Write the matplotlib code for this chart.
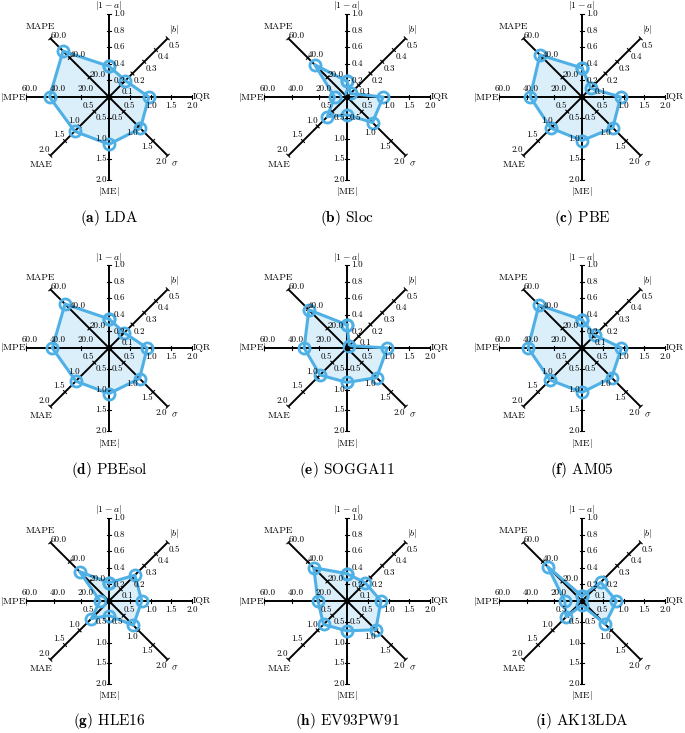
## Radar charts of error metrics for nine functionals

import matplotlib.pyplot as plt
import numpy as np

plt.rcParams['font.family'] = 'serif'
plt.rcParams['font.serif'] = ['cmr10', 'DejaVu Serif']
plt.rcParams['mathtext.fontset'] = 'cm'
plt.rcParams['axes.unicode_minus'] = False

# axes of the radar, clockwise from the top
axis_names = [r'$|1-a|$', r'$|b|$', 'IQR', r'$\sigma$', r'$|\mathrm{ME}|$', 'MAE', r'$|\mathrm{MPE}|$', 'MAPE']
axis_max = [1.0, 0.5, 2.0, 2.0, 2.0, 2.0, 60.0, 60.0]
axis_ticks = [
    [0.2, 0.4, 0.6, 0.8, 1.0],
    [0.1, 0.2, 0.3, 0.4, 0.5],
    [0.5, 1.0, 1.5, 2.0],
    [0.5, 1.0, 1.5, 2.0],
    [0.5, 1.0, 1.5, 2.0],
    [0.5, 1.0, 1.5, 2.0],
    [20.0, 40.0, 60.0],
    [20.0, 40.0, 60.0],
]

letters = ['a', 'b', 'c', 'd', 'e', 'f', 'g', 'h', 'i']
functionals = ['LDA', 'Sloc', 'PBE', 'PBEsol', 'SOGGA11', 'AM05', 'HLE16', 'EV93PW91', 'AK13LDA']

# values: |1-a|, |b|, IQR, sigma, |ME|, MAE, |MPE|, MAPE
lda = [0.37, 0.14, 0.96, 1.07, 1.14, 1.17, 43.0, 47.0]
sloc = [0.19, 0.03, 0.87, 0.87, 0.43, 0.67, 9.0, 33.0]
pbe = [0.35, 0.075, 0.93, 1.05, 1.05, 1.06, 37.5, 43.0]
pbesol = [0.35, 0.13, 0.92, 1.04, 1.10, 1.13, 41.0, 45.0]
sogga11 = [0.28, 0.02, 0.97, 1.01, 0.83, 0.92, 31.0, 39.0]
am05 = [0.34, 0.11, 0.95, 1.01, 1.07, 1.09, 39.0, 44.0]
hle16 = [0.22, 0.22, 0.79, 0.83, 0.35, 0.60, 6.5, 30.0]
ev93pw91 = [0.33, 0.155, 0.82, 0.98, 0.72, 0.80, 21.0, 34.0]
ak13lda = [0.06, 0.16, 0.83, 0.79, 0.10, 0.54, 12.5, 35.0]
all_values = [lda, sloc, pbe, pbesol, sogga11, am05, hle16, ev93pw91, ak13lda]

angles = np.deg2rad([90, 45, 0, -45, -90, -135, 180, 135])
# tick label offsets (pixels) and axis name offsets (pixels)
tick_off = [(10, 0), (7, -7), (0, -9), (-6, -6), (-8, 0), (-6, 6), (4, 8), (8, 3)]
name_off = [(0, 8), (6, 9), (10, 0), (7, -8), (0, -12), (-9, -9), (-12, 0), (-10, 12)]

blue = '#4FB0E6'

W, H = 685, 733
R = 83.0  # axis length in pixels
centers_x = [109, 347, 582]
centers_y = [97, 348, 601]
caption_y = [218, 470, 721]
box = 230

fig = plt.figure(figsize=(W / 100, H / 100), dpi=100)

for p in range(9):
    row, col = divmod(p, 3)
    cx, cy = centers_x[col], centers_y[row]
    ax = fig.add_axes([(cx - box / 2) / W, 1 - (cy + box / 2) / H, box / W, box / H])
    lim = box / 2 / R
    ax.set_xlim(-lim, lim)
    ax.set_ylim(-lim, lim)
    ax.axis('off')

    for k in range(8):
        c, s = np.cos(angles[k]), np.sin(angles[k])
        ax.plot([0, c], [0, s], color='black', lw=1.4, zorder=2, solid_capstyle='butt')
        for t in axis_ticks[k]:
            r = t / axis_max[k]
            ax.plot([r * c - 0.025 * s, r * c + 0.025 * s], [r * s + 0.025 * c, r * s - 0.025 * c],
                    color='black', lw=0.8, zorder=2)
            ax.annotate('%.1f' % t, (r * c, r * s), xytext=tick_off[k], textcoords='offset pixels',
                        ha='center', va='center', fontsize=6.5, zorder=4, annotation_clip=False)
        ax.annotate(axis_names[k], (c, s), xytext=name_off[k], textcoords='offset pixels',
                    ha='center', va='center', fontsize=7, zorder=4, annotation_clip=False)

    vals = np.array(all_values[p]) / np.array(axis_max)
    xs = np.append(vals * np.cos(angles), vals[0] * np.cos(angles[0]))
    ys = np.append(vals * np.sin(angles), vals[0] * np.sin(angles[0]))
    ax.fill(xs, ys, color=blue, alpha=0.2, lw=0, zorder=1)
    ax.plot(xs, ys, color=blue, lw=2.2, zorder=3, marker='o', markersize=8,
            markerfacecolor='none', markeredgecolor=blue, markeredgewidth=2.0)
    ax.plot([0], [0], 'o', color='black', markersize=3, zorder=3)

    fig.text(cx / W, 1 - caption_y[row] / H, r'($\mathbf{%s}$) %s' % (letters[p], functionals[p]),
             ha='center', va='center', fontsize=11)

fig.savefig("out.png", dpi=100)
